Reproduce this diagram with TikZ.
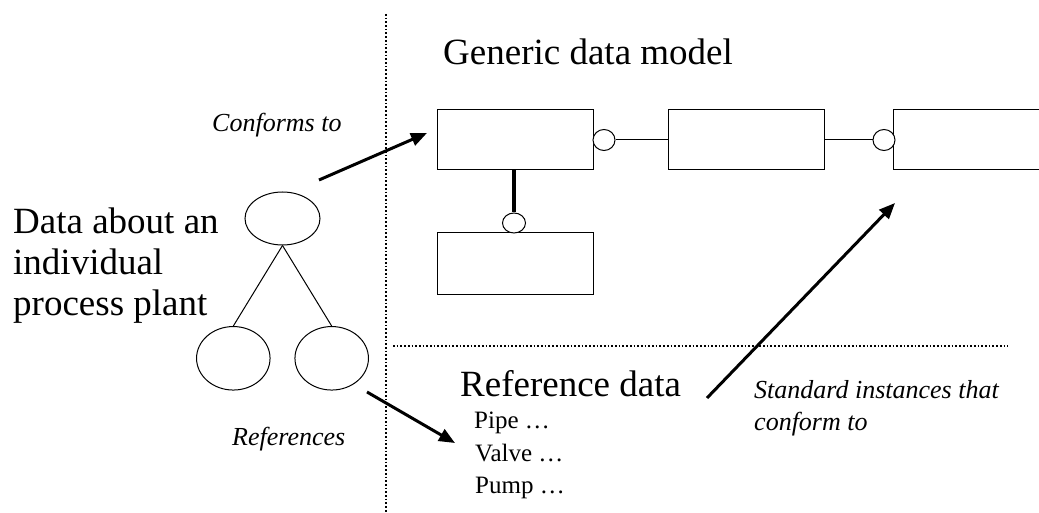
\documentclass[tikz,border=0pt]{standalone}
\usepackage{fontspec}
\setmainfont{Liberation Serif}
\usetikzlibrary{arrows.meta,shapes.geometric}

\tikzset{
  entity/.style={draw, line width=1pt, rectangle, minimum width=156pt, minimum height=60pt, inner sep=0pt},
  optdot/.style={draw, line width=1pt, ellipse, minimum width=22pt, minimum height=21pt, inner sep=0pt, fill=white},
  blob/.style={draw, line width=1pt, ellipse, inner sep=0pt},
  bigtext/.style={inner sep=0pt, anchor=base west, font=\fontsize{37}{44}\selectfont},
  itlabel/.style={inner sep=0pt, anchor=base west, font=\fontsize{26}{32}\itshape},
  listtext/.style={inner sep=0pt, anchor=base west, font=\fontsize{25}{32}\selectfont},
  rel/.style={line width=1pt},
  fatarrow/.style={line width=3pt, -{Triangle[length=16pt,width=13pt]}},
  sep/.style={line width=1.8pt, dash pattern=on 1.7pt off 2pt}
}

\begin{document}
\begin{tikzpicture}[x=1pt, y=-1pt]
  \useasboundingbox (0,0) rectangle (1039,513);
  \clip (0,0) rectangle (1039,513);

  % separators between the three regions
  \draw[sep] (386,14) -- (386,513);
  \draw[sep] (393,346) -- (1008,346);

  % generic data model
  \node[bigtext] (title) at (443,65) {Generic data model};
  \node[entity] (e1) at (515,140) {};
  \node[entity] (e2) at (746,140) {};
  \node[entity] (e3) at (971,140) {};
  \node[entity, minimum height=61pt] (e4) at (515,263.5) {};
  \node[optdot] (o1) at (604,140) {};
  \node[optdot] (o2) at (884,140) {};
  \node[optdot, minimum width=23pt, minimum height=20pt] (o3) at (514,223) {};
  \draw[rel] (o1.east) -- (e2.west);
  \draw[rel] (e2.east) -- (o2.west);
  \draw[line width=4pt] (e1.south -| o3.north) -- (o3.north);

  % individual plant data
  \node[bigtext] (d1) at (13,234) {Data about an};
  \node[bigtext] (d2) at (13,274.5) {individual};
  \node[bigtext] (d3) at (13,315) {process plant};
  \node[blob, minimum width=75pt, minimum height=53pt] (root) at (282.5,218.5) {};
  \node[blob, minimum width=73.5pt, minimum height=63.5pt] (leafa) at (233.3,358.3) {};
  \node[blob, minimum width=73.5pt, minimum height=63.5pt] (leafb) at (331.7,358.3) {};
  \draw[rel] (root.south) -- (leafa.north);
  \draw[rel] (root.south) -- (leafb.north);

  % reference data
  \node[bigtext] (refdata) at (460,396) {Reference data};
  \node[listtext] (pipe) at (474,428) {Pipe …};
  \node[listtext] (valve) at (475,461) {Valve …};
  \node[listtext] (pump) at (475,493) {Pump …};

  % relationships between the regions
  \coordinate (conf0) at (319,180);
  \coordinate (conf1) at (427,133);
  \coordinate (ref0) at (367,392);
  \coordinate (ref1) at (455,443);
  \coordinate (std0) at (707,398);
  \coordinate (std1) at (895,203);
  \draw[fatarrow] (conf0) -- (conf1);
  \draw[fatarrow] (ref0) -- (ref1);
  \draw[fatarrow] (std0) -- (std1);

  \node[itlabel] (lconf) at (212,132) {Conforms to};
  \node[itlabel] (lref) at (232,445) {References};
  \node[itlabel] (lstd1) at (754,398) {Standard instances that};
  \node[itlabel] (lstd2) at (754,430) {conform to};
\end{tikzpicture}
\end{document}
